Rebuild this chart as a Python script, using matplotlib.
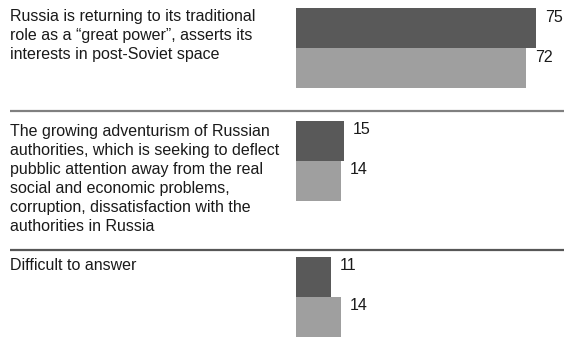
import matplotlib.pyplot as plt

plt.rcParams['font.family'] = ['Liberation Sans', 'DejaVu Sans']

categories = [
    'Russia is returning to its traditional\nrole as a \u201cgreat power\u201d, asserts its\ninterests in post-Soviet space',
    'The growing adventurism of Russian\nauthorities, which is seeking to deflect\npubblic attention away from the real\nsocial and economic problems,\ncorruption, dissatisfaction with the\nauthorities in Russia',
    'Difficult to answer',
]
series_dark = [75, 15, 11]
series_light = [72, 14, 14]

dark = '#595959'
light = '#9f9f9f'
rule_colors = ['#808080', '#575757']

W, H = 564, 337
x0 = 296            # left edge of the bars, px
px_per_unit = 3.2   # bar scale
bar_h = 40
group_tops = [8, 121, 257]
text_tops = [9, 124, 258]
rules_y = [111, 250]

fig = plt.figure(figsize=(W / 100, H / 100), dpi=100)

# text and separator layer in pixel coordinates
tax = fig.add_axes([0, 0, 1, 1])
tax.set_xlim(0, W)
tax.set_ylim(H, 0)
tax.axis('off')
for y, c in zip(rules_y, rule_colors):
    tax.hlines(y, 10, W, color=c, lw=1.6)

# bars, x in percent
ax = fig.add_axes([x0 / W, 0, 1 - x0 / W, 1])
ax.set_xlim(0, (W - x0) / px_per_unit)
ax.set_ylim(H, 0)
ax.axis('off')

for label, a, b, top, ty in zip(categories, series_dark, series_light,
                                group_tops, text_tops):
    tax.text(10, ty, label, va='top', ha='left', fontsize=11.5,
             color='#1a1a1a', linespacing=1.34)
    for k, (v, c) in enumerate([(a, dark), (b, light)]):
        yc = top + bar_h * (k + 0.5)
        ax.barh(yc, v, height=bar_h, color=c, lw=0)
        ax.annotate(str(v), xy=(v, yc - 11), xytext=(9, 0),
                    textcoords='offset pixels', va='center', ha='left',
                    fontsize=11.5, color='#1a1a1a')

fig.savefig('out.png', dpi=100)
